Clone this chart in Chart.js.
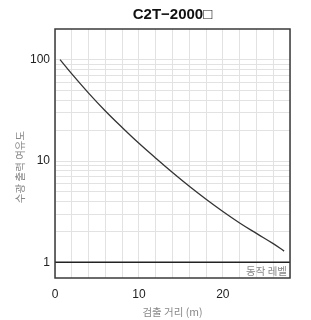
<!DOCTYPE html>
<html>
<head>
<meta charset="utf-8">
<script src="https://cdn.jsdelivr.net/npm/chart.js@4"></script>
<style>
  html, body { margin: 0; padding: 0; background: #fff; }
</style>
</head>
<body>
<canvas id="chart" width="311" height="320"></canvas>
<script>
// detection distance (m) vs. excess gain
const distances = [0.6, 2, 4, 6, 8, 10, 12, 14, 16, 18, 20, 22, 24, 26, 27.3];
const excessGain = [100.7, 72.8, 47.0, 31.3, 21.5, 15.0, 10.7, 7.71, 5.64, 4.2, 3.18, 2.45, 1.93, 1.53, 1.29];
const operateLevel = 1;

const xRange = [0, 28];
const yRange = [0.7, 202];
const xLabels = [0, 10, 20];
const yLabels = [1, 10, 100];
const yGrid = [1, 2, 3, 4, 5, 6, 7, 8, 9, 10, 20, 30, 40, 50, 60, 70, 80, 90, 100];

const chartTitle = "C2T\u22122000\u25A1";
const xTitle = "검출 거리 (m)";
const yTitle = "수광 출력 여유도";
const levelLabel = "동작 레벨";

const numFont = '"Liberation Sans", Arial, sans-serif';
const krFont = '"Noto Sans CJK KR", "Noto Sans", sans-serif';

// frame, title, rotated y title and the operate-level caption
const annotate = {
  id: "annotate",
  afterDraw(chart) {
    const { ctx, chartArea: a, scales } = chart;
    ctx.save();
    ctx.strokeStyle = "#3a3a3a";
    ctx.lineWidth = 1.5;
    ctx.strokeRect(a.left, a.top, a.right - a.left, a.bottom - a.top);

    ctx.fillStyle = "#111";
    ctx.font = "600 15px " + numFont;
    ctx.textAlign = "center";
    ctx.textBaseline = "alphabetic";
    ctx.fillText(chartTitle, (a.left + a.right) / 2, a.top - 10.5);

    ctx.fillStyle = "#888";
    ctx.font = "10.5px " + krFont;
    ctx.textAlign = "right";
    ctx.textBaseline = "middle";
    ctx.fillText(levelLabel, a.right - 3, scales.y.getPixelForValue(operateLevel) + 9);

    ctx.translate(a.left - 35, a.top + 138);
    ctx.rotate(-Math.PI / 2);
    ctx.textAlign = "center";
    ctx.fillText(yTitle, 0, 0);
    ctx.restore();
  },
};

const ctx = document.getElementById("chart");
new Chart(ctx, {
  type: "line",
  data: {
    datasets: [
      {
        data: distances.map((d, i) => ({ x: d, y: excessGain[i] })),
        borderColor: "#333",
        borderWidth: 1.3,
        pointRadius: 0,
        tension: 0.4,
      },
      {
        data: xRange.map((d) => ({ x: d, y: operateLevel })),
        borderColor: "#222",
        borderWidth: 1.4,
        pointRadius: 0,
      },
    ],
  },
  options: {
    responsive: false,
    animation: false,
    events: [],
    layout: { padding: { top: 29, right: 21, left: 0, bottom: 0 } },
    plugins: {
      legend: { display: false },
      tooltip: { enabled: false },
      title: { display: false },
    },
    scales: {
      x: {
        type: "linear",
        min: xRange[0],
        max: xRange[1],
        grid: { color: "#e2e2e2", drawTicks: false },
        border: { display: false },
        ticks: {
          stepSize: 2,
          autoSkip: false,
          maxRotation: 0,
          padding: 9,
          color: "#222",
          font: { size: 12, family: numFont },
          callback: (v) => (xLabels.includes(v) ? String(v) : ""),
        },
        title: {
          display: true,
          text: xTitle,
          color: "#888",
          font: { size: 10.5, family: krFont },
          padding: { top: 0, bottom: 2 },
        },
        afterFit: (s) => {
          s.height = 42;
        },
      },
      y: {
        type: "logarithmic",
        min: yRange[0],
        max: yRange[1],
        grid: { color: "#e2e2e2", drawTicks: false },
        border: { display: false },
        afterBuildTicks: (s) => {
          s.ticks = yGrid.map((v) => ({ value: v }));
        },
        ticks: {
          autoSkip: false,
          padding: 5,
          color: "#222",
          font: { size: 12, family: numFont },
          callback: (v) => (yLabels.includes(v) ? String(v) : ""),
        },
        afterFit: (s) => {
          s.width = 55;
        },
      },
    },
  },
  plugins: [annotate],
});
</script>
</body>
</html>
